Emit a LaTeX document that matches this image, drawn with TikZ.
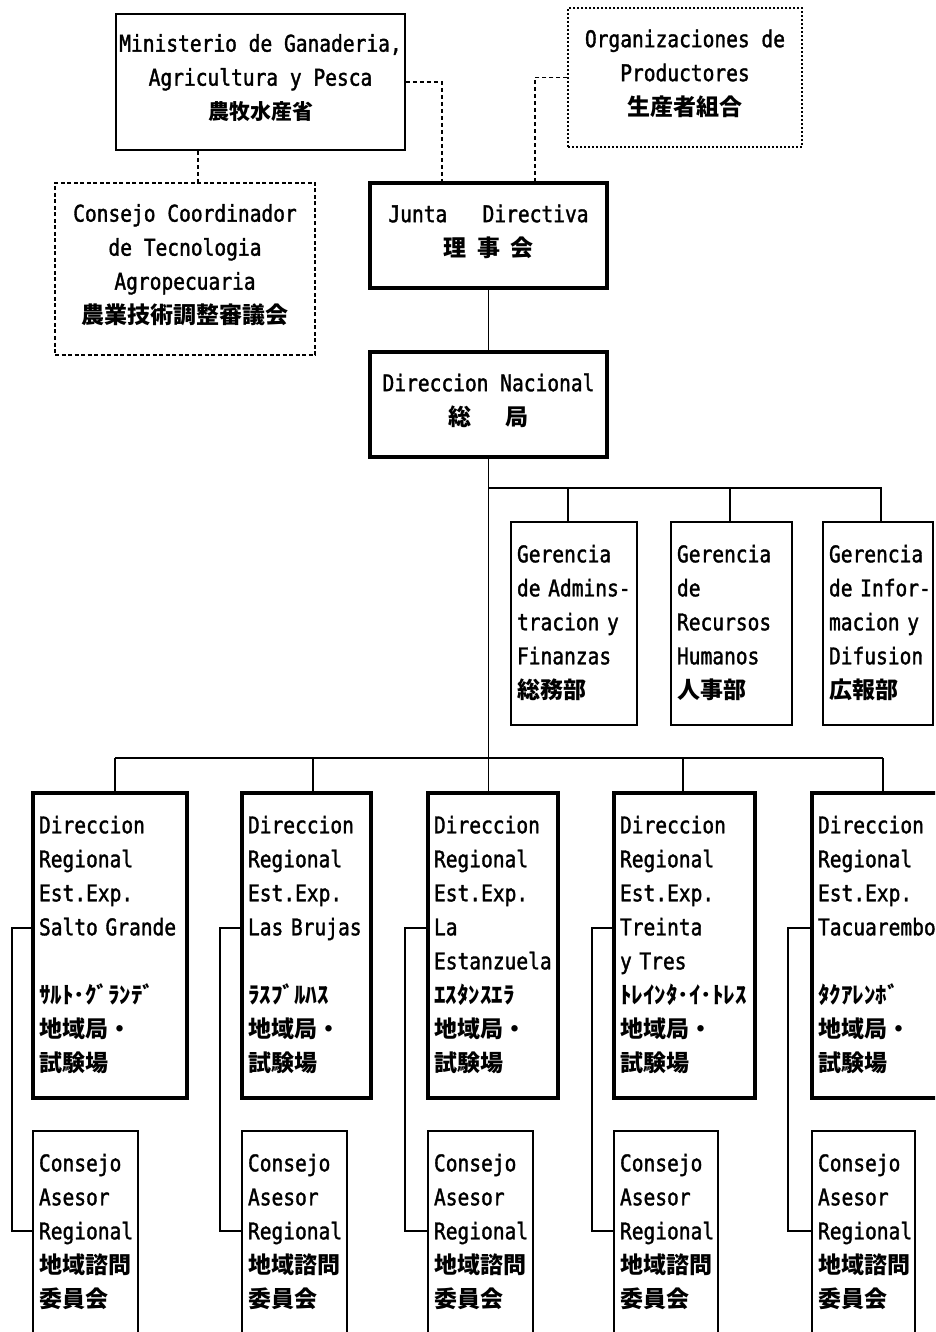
\documentclass[tikz,border=0pt]{standalone}
\usepackage{fontspec}
\newfontfamily\lat{DejaVu Sans Mono}[FakeStretch=0.85, FakeBold=1.5]
\newfontfamily\jp{Noto Sans CJK JP}
\hyphenpenalty=10000
\exhyphenpenalty=10000
\begin{document}
\begin{tikzpicture}[x=1pt,y=-1pt,
  thinbox/.style={draw, line width=1.6pt, inner sep=0pt},
  thickbox/.style={draw, line width=3.4pt, inner sep=0pt},
  dashbox/.style={draw, line width=1.3pt, inner sep=0pt, dash pattern=on 4pt off 2.5pt},
  dotbox/.style={draw, line width=1.3pt, inner sep=0pt, dash pattern=on 1.8pt off 2.2pt},
  ctext/.style={align=center, font=\lat\fontsize{23}{34}\selectfont,
    execute at begin node=\strut, execute at end node=\strut},
  ltext/.style={align=left, font=\lat\fontsize{23}{34}\selectfont,
    execute at begin node=\strut, execute at end node=\strut},
  link/.style={line width=1.3pt},
  dlink/.style={line width=1.3pt, dash pattern=on 4pt off 3pt},
]
\useasboundingbox (0,0) rectangle (935,1332);
\fill[white] (0,0) rectangle (935,1332);
\clip (0,0) rectangle (935,1332);

% top level
\node[thinbox, ctext, minimum width=289pt, minimum height=136pt] (min) at (260.5,82)
  {Ministerio de Ganaderia,\\Agricultura y Pesca\\{\jp\bfseries\fontsize{21}{34}\selectfont 農牧水産省}};
\node[dotbox, ctext, minimum width=234pt, minimum height=139pt] (org) at (685,77.5)
  {Organizaciones de\\Productores\\{\jp\bfseries 生産者組合}};
\node[dashbox, ctext, minimum width=260pt, minimum height=172pt] (cc) at (185,269)
  {Consejo Coordinador\\de Tecnologia\\Agropecuaria\\{\jp\bfseries 農業技術調整審議会}};
\node[thickbox, ctext, minimum width=237pt, minimum height=105pt] (junta) at (488.5,235.5)
  {Junta\ \ \ Directiva\\{\jp\bfseries 理\hspace{11pt}事\hspace{11pt}会}};
\node[thickbox, ctext, minimum width=237pt, minimum height=105pt] (dn) at (488.5,404.5)
  {Direccion Nacional\\{\jp\bfseries 総\hspace{35pt}局}};

% gerencias
\node[thinbox, ltext, text width=114pt, minimum width=126pt, minimum height=203pt] (g1) at (574,623.5)
  {Gerencia\\de~Admins-\\tracion~y\\Finanzas\\{\jp\bfseries 総務部}};
\node[thinbox, ltext, text width=109pt, minimum width=121pt, minimum height=203pt] (g2) at (731.5,623.5)
  {Gerencia\\de\\Recursos\\Humanos\\{\jp\bfseries 人事部}};
\node[thinbox, ltext, text width=98pt, minimum width=110pt, minimum height=203pt] (g3) at (878,623.5)
  {Gerencia\\de~Infor-\\macion~y\\Difusion\\{\jp\bfseries 広報部}};

% direcciones regionales
\node[thickbox, ltext, text width=142pt, minimum width=154pt, minimum height=305pt] (dr1) at (110,945.5)
  {Direccion\\Regional\\Est.Exp.\\Salto~Grande\\\mbox{}\\{\jp\bfseries ｻﾙﾄ･ｸﾞﾗﾝﾃﾞ}\\{\jp\bfseries 地域局・}\\{\jp\bfseries 試験場}};
\node[thickbox, ltext, text width=117pt, minimum width=129pt, minimum height=305pt] (dr2) at (306.5,945.5)
  {Direccion\\Regional\\Est.Exp.\\Las~Brujas\\\mbox{}\\{\jp\bfseries ﾗｽﾌﾞﾙﾊｽ}\\{\jp\bfseries 地域局・}\\{\jp\bfseries 試験場}};
\node[thickbox, ltext, text width=118pt, minimum width=130pt, minimum height=305pt] (dr3) at (493,945.5)
  {Direccion\\Regional\\Est.Exp.\\La\\Estanzuela\\{\jp\bfseries ｴｽﾀﾝｽｴﾗ}\\{\jp\bfseries 地域局・}\\{\jp\bfseries 試験場}};
\node[thickbox, ltext, text width=129pt, minimum width=141pt, minimum height=305pt] (dr4) at (684.5,945.5)
  {Direccion\\Regional\\Est.Exp.\\Treinta\\y~Tres\\{\jp\bfseries ﾄﾚｲﾝﾀ･ｲ･ﾄﾚｽ}\\{\jp\bfseries 地域局・}\\{\jp\bfseries 試験場}};
\node[thickbox, ltext, text width=126pt, minimum width=138pt, minimum height=305pt] (dr5) at (881,945.5)
  {Direccion\\Regional\\Est.Exp.\\Tacuarembo\\\mbox{}\\{\jp\bfseries ﾀｸｱﾚﾝﾎﾞ}\\{\jp\bfseries 地域局・}\\{\jp\bfseries 試験場}};

% consejos asesores
\node[thinbox, ltext, text width=93pt, minimum width=105pt, minimum height=203pt] (ca1) at (85.5,1232.5)
  {Consejo\\Asesor\\Regional\\{\jp\bfseries 地域諮問}\\{\jp\bfseries 委員会}};
\node[thinbox, ltext, text width=93pt, minimum width=105pt, minimum height=203pt] (ca2) at (294.5,1232.5)
  {Consejo\\Asesor\\Regional\\{\jp\bfseries 地域諮問}\\{\jp\bfseries 委員会}};
\node[thinbox, ltext, text width=93pt, minimum width=105pt, minimum height=203pt] (ca3) at (480.5,1232.5)
  {Consejo\\Asesor\\Regional\\{\jp\bfseries 地域諮問}\\{\jp\bfseries 委員会}};
\node[thinbox, ltext, text width=92pt, minimum width=104pt, minimum height=203pt] (ca4) at (666,1232.5)
  {Consejo\\Asesor\\Regional\\{\jp\bfseries 地域諮問}\\{\jp\bfseries 委員会}};
\node[thinbox, ltext, text width=91pt, minimum width=103pt, minimum height=203pt] (ca5) at (863.5,1232.5)
  {Consejo\\Asesor\\Regional\\{\jp\bfseries 地域諮問}\\{\jp\bfseries 委員会}};

% helper coordinates
\coordinate (cA) at (442,0);
\coordinate (cB) at (535,0);
\coordinate (cC) at (198,0);
\coordinate (gb) at (488.5,488);
\coordinate (gx1) at (568,0);
\coordinate (gx2) at (730,0);
\coordinate (gx3) at (881,0);
\coordinate (bb) at (488.5,758);
\coordinate (d1) at (115,0);
\coordinate (d2) at (313,0);
\coordinate (d4) at (683,0);
\coordinate (d5) at (883,0);
\coordinate (sy) at (0,928);
\coordinate (cy) at (0,1231);
\coordinate (s1) at (12,0);
\coordinate (s2) at (220,0);
\coordinate (s3) at (405,0);
\coordinate (s4) at (592,0);
\coordinate (s5) at (788,0);

% dashed links at top
\draw[dlink] (min.east) -| (junta.north -| cA);
\draw[dlink] (org.west) -| (junta.north -| cB);
\draw[dlink] (min.south -| cC) -- (cc.north -| cC);

% main line
\draw[link] (junta.south) -- (dn.north);
\draw[link] (dn.south) -- (dr3.north -| dn.south);

% gerencias
\draw[link] (gb) -| (g3.north -| gx3);
\draw[link] (gb -| gx1) -- (g1.north -| gx1);
\draw[link] (gb -| gx2) -- (g2.north -| gx2);

% regional bar
\draw[link] (bb -| d1) -- (bb -| d5);
\draw[link] (bb -| d1) -- (dr1.north -| d1);
\draw[link] (bb -| d2) -- (dr2.north -| d2);
\draw[link] (bb -| d4) -- (dr4.north -| d4);
\draw[link] (bb -| d5) -- (dr5.north -| d5);

% side links to consejos
\draw[link] (dr1.west |- sy) -- (s1 |- sy) -- (s1 |- cy) -- (ca1.west |- cy);
\draw[link] (dr2.west |- sy) -- (s2 |- sy) -- (s2 |- cy) -- (ca2.west |- cy);
\draw[link] (dr3.west |- sy) -- (s3 |- sy) -- (s3 |- cy) -- (ca3.west |- cy);
\draw[link] (dr4.west |- sy) -- (s4 |- sy) -- (s4 |- cy) -- (ca4.west |- cy);
\draw[link] (dr5.west |- sy) -- (s5 |- sy) -- (s5 |- cy) -- (ca5.west |- cy);
\end{tikzpicture}
\end{document}
